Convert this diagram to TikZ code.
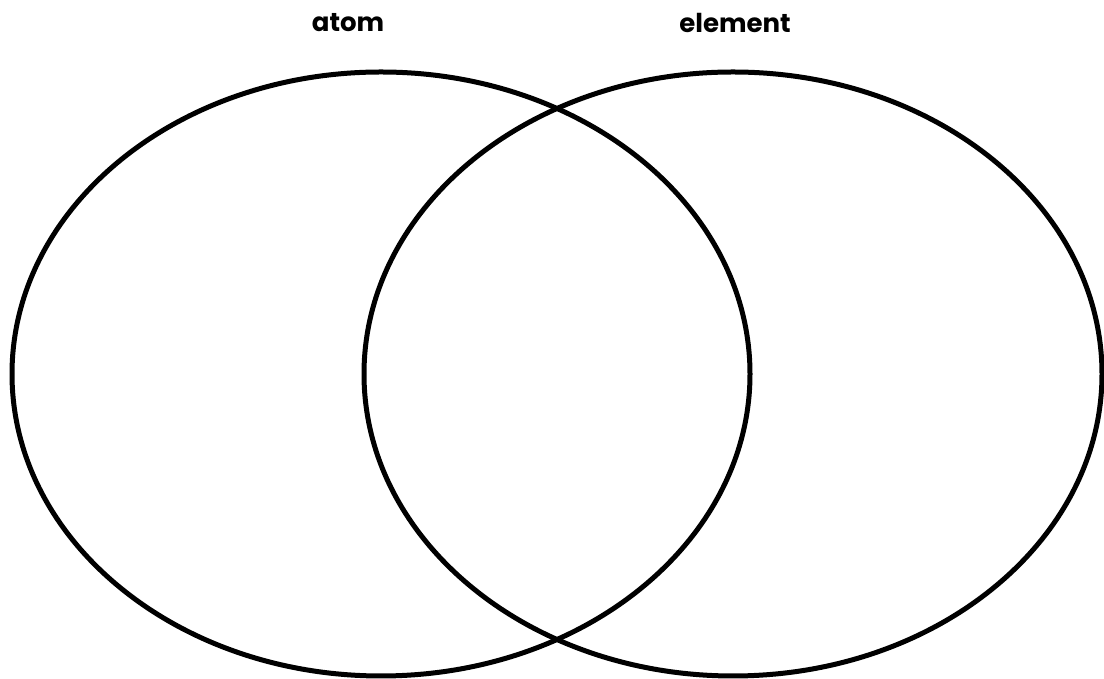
\documentclass[tikz,border=0pt]{standalone}
\usepackage{fontspec}
\setmainfont{Poppins}
\usetikzlibrary{shapes.geometric}
\tikzset{
  vennset/.style={draw=black, line width=5pt, ellipse, minimum width=738pt, minimum height=604pt, inner sep=0pt},
  title/.style={font=\fontsize{26pt}{30pt}\selectfont\bfseries, text=black, inner sep=0pt}
}
\begin{document}
\begin{tikzpicture}[x=1pt,y=1pt]
\useasboundingbox (0,0) rectangle (1104,679);
\node[vennset] (left) at (381,305) {};
\node[vennset] (right) at (733,305) {};
\node[title] (atom) at (348,656) {atom};
\node[title] (element) at (735,656) {element};
\end{tikzpicture}
\end{document}
